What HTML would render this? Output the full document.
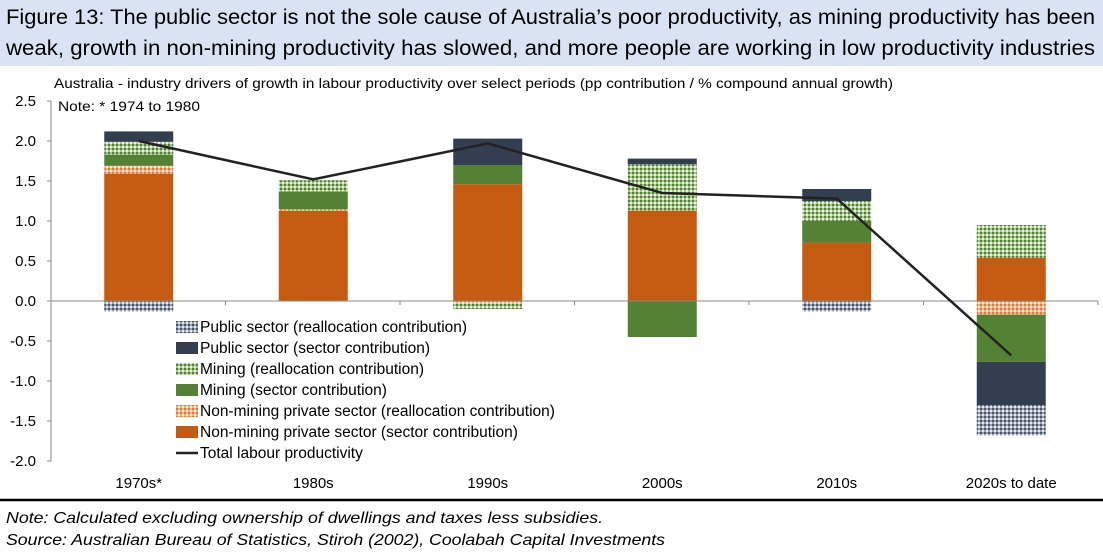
<!DOCTYPE html>
<html><head><meta charset="utf-8"><style>
body{margin:0;width:1103px;height:552px;background:#fff;font-family:"Liberation Sans",Arial,sans-serif;overflow:hidden;position:relative}
</style></head><body>
<svg id="chart" width="1103" height="552" style="position:absolute;left:0;top:0">
<defs>
<pattern id="pGreen" width="4" height="4" patternUnits="userSpaceOnUse"><rect width="4" height="4" fill="#a9c58f"/><rect width="2" height="2" fill="#538135"/><rect x="2" y="2" width="2" height="2" fill="#e6f0dc"/></pattern>
<pattern id="pOrange" width="4" height="4" patternUnits="userSpaceOnUse"><rect width="4" height="4" fill="#f0b48a"/><rect width="2" height="2" fill="#e07a3a"/><rect x="2" y="2" width="2" height="2" fill="#fde8d8"/></pattern>
<pattern id="pNavy" width="4" height="4" patternUnits="userSpaceOnUse"><rect width="4" height="4" fill="#9aa3b3"/><rect width="2" height="2" fill="#4a5568"/><rect x="2" y="2" width="2" height="2" fill="#e4e8ee"/></pattern>
</defs>
<rect x="0" y="0" width="1103" height="66" fill="#dae3f3"/>
<text x="6" y="24" font-size="21" textLength="1089" lengthAdjust="spacingAndGlyphs">Figure 13: The public sector is not the sole cause of Australia’s poor productivity, as mining productivity has been</text>
<text x="6" y="55" font-size="21" textLength="1089" lengthAdjust="spacingAndGlyphs">weak, growth in non-mining productivity has slowed, and more people are working in low productivity industries</text>
<text x="54" y="88" font-size="14" textLength="839" lengthAdjust="spacingAndGlyphs">Australia - industry drivers of growth in labour productivity over select periods (pp contribution / % compound annual growth)</text>
<text x="58" y="111" font-size="14" textLength="142" lengthAdjust="spacingAndGlyphs">Note: * 1974 to 1980</text>
<g id="bars"></g><g id="axes"></g><g id="legend"></g>
<line x1="0" y1="500" x2="1103" y2="500" stroke="#000" stroke-width="2.5"/>
<text x="6" y="523" font-size="16" font-style="italic" textLength="597" lengthAdjust="spacingAndGlyphs">Note: Calculated excluding ownership of dwellings and taxes less subsidies.</text>
<text x="6" y="545" font-size="16" font-style="italic" textLength="659" lengthAdjust="spacingAndGlyphs">Source: Australian Bureau of Statistics, Stiroh (2002), Coolabah Capital Investments</text>
</svg>
<script>
const categories=["1970s*","1980s","1990s","2000s","2010s","2020s to date"];
const nmSector=[1.59,1.13,1.46,1.13,0.73,0.54];
const nmRealloc=[0.10,0.02,-0.03,0,0,-0.17];
const miningSector=[0.14,0.22,0.24,-0.45,0.27,-0.59];
const miningRealloc=[0.16,0.14,-0.07,0.58,0.25,0.41];
const publicSector=[0.13,0,0.33,0.07,0.15,-0.54];
const publicRealloc=[-0.13,0,0,0,-0.13,-0.38];
const total=[2.0,1.52,1.97,1.35,1.28,-0.68];
const yTicks=[2.5,2.0,1.5,1.0,0.5,0.0,-0.5,-1.0,-1.5,-2.0];
const NS="http://www.w3.org/2000/svg";
const x0=51,x1=1098,yZero=301,pxU=80,bw=69;
const band=(x1-x0)/categories.length;
const xC=i=>x0+band*(i+0.5)+0.5;
const yS=v=>yZero-v*pxU;
function mk(t,a,p){const e=document.createElementNS(NS,t);for(const k in a)e.setAttribute(k,a[k]);p.appendChild(e);return e;}
const series=[
 {d:nmSector,f:"#c55a11",n:"Non-mining private sector (sector contribution)",k:"nm-sector"},
 {d:nmRealloc,f:"url(#pOrange)",n:"Non-mining private sector (reallocation contribution)",k:"nm-realloc"},
 {d:miningSector,f:"#548235",n:"Mining (sector contribution)",k:"mining-sector"},
 {d:miningRealloc,f:"url(#pGreen)",n:"Mining (reallocation contribution)",k:"mining-realloc"},
 {d:publicSector,f:"#333f50",n:"Public sector (sector contribution)",k:"public-sector"},
 {d:publicRealloc,f:"url(#pNavy)",n:"Public sector (reallocation contribution)",k:"public-realloc"}];
const bars=document.getElementById('bars');
categories.forEach((c,i)=>{let pos=0,neg=0;
 series.forEach(s=>{const v=s.d[i];if(!v)return;let a,b;
  if(v>0){a=pos;b=pos+v;pos=b;}else{a=neg;b=neg+v;neg=b;}
  const r=mk('rect',{x:xC(i)-bw/2,y:Math.min(yS(a),yS(b)),width:bw,height:Math.abs(yS(a)-yS(b)),fill:s.f},bars);
  
  });});
const ax=document.getElementById('axes');
let l=mk('line',{x1:x0,y1:yS(2.5),x2:x0,y2:yS(-2),stroke:'#888','stroke-width':1},ax);

l=mk('line',{x1:x0,y1:yZero,x2:x1,y2:yZero,stroke:'#888','stroke-width':1},ax);

for(let i=0;i<=categories.length;i++)mk('line',{x1:x0+band*i,y1:yZero,x2:x0+band*i,y2:yZero+4,stroke:'#888'},ax);
yTicks.forEach(v=>{mk('line',{x1:x0-4,y1:yS(v),x2:x0,y2:yS(v),stroke:'#888'},ax);
 const t=mk('text',{x:36,y:yS(v)+5,'font-size':15,'text-anchor':'end'},ax);t.textContent=v.toFixed(1);
 });
categories.forEach((c,i)=>{const t=mk('text',{x:xC(i),y:488,'font-size':15,'text-anchor':'middle'},ax);t.textContent=c;
 });
const pl=mk('polyline',{points:total.map((v,i)=>xC(i)+','+yS(v)).join(' '),fill:'none',stroke:'#222','stroke-width':2.5},ax);

const lg=document.getElementById('legend');
const items=series.slice().reverse();
items.forEach((s,j)=>{const y=327+j*21;
 const r=mk('rect',{x:176,y:y-6,width:22,height:12,fill:s.f},lg);
 
 const t=mk('text',{x:200,y:y+5,'font-size':15.5},lg);t.textContent=s.n;
 });
const ly=327+6*21;
mk('line',{x1:176,y1:ly,x2:198,y2:ly,stroke:'#222','stroke-width':2.5},lg);
const lt=mk('text',{x:200,y:ly+5,'font-size':15.5},lg);lt.textContent="Total labour productivity";

</script>
</body></html>
